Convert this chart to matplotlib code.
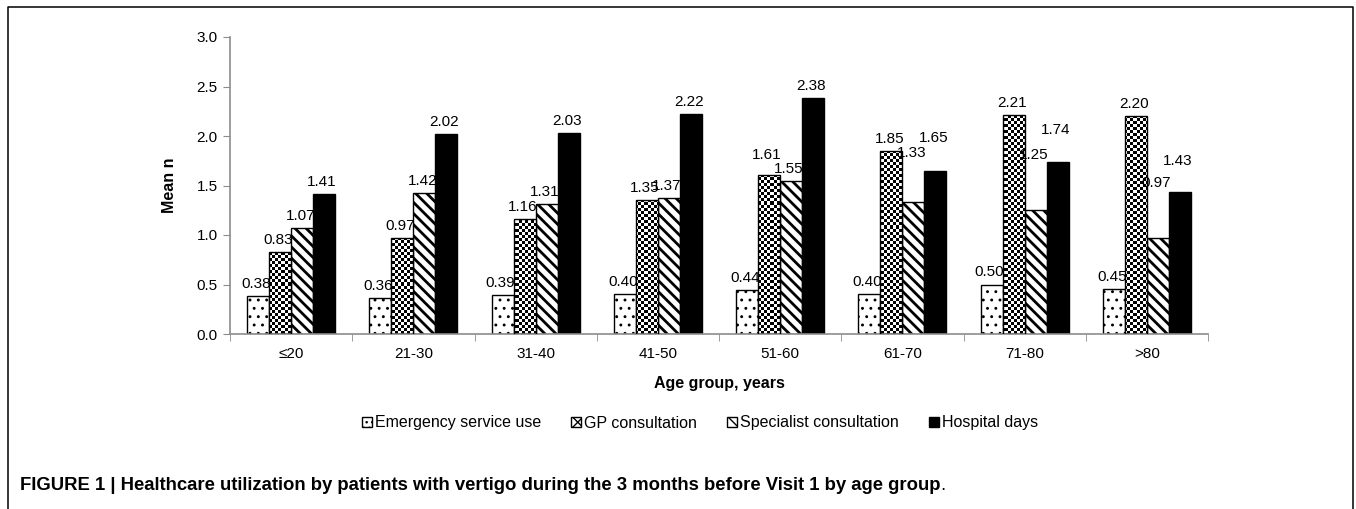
import numpy as np
import matplotlib
matplotlib.use('Agg')
import matplotlib.pyplot as plt
from matplotlib.patches import Patch
from matplotlib.lines import Line2D

plt.rcParams['font.family'] = ['Liberation Sans', 'DejaVu Sans']

groups = ['≤20', '21-30', '31-40', '41-50', '51-60', '61-70', '71-80', '>80']
series = ['Emergency service use', 'GP consultation', 'Specialist consultation', 'Hospital days']
emergency = [0.38, 0.36, 0.39, 0.40, 0.44, 0.40, 0.50, 0.45]
gp = [0.83, 0.97, 1.16, 1.35, 1.61, 1.85, 2.21, 2.20]
specialist = [1.07, 1.42, 1.31, 1.37, 1.55, 1.33, 1.25, 0.97]
hospital = [1.41, 2.02, 2.03, 2.22, 2.38, 1.65, 1.74, 1.43]

# extra lift (pixels) for a few labels that were moved by hand in the original
lift = {(1, 4): 8, (2, 5): 37, (3, 5): 21, (2, 6): 43, (3, 6): 20, (2, 7): 43, (3, 7): 19}

W, H = 1356, 509
fig = plt.figure(figsize=(W / 100, H / 100), dpi=100)
ax = fig.add_axes([230 / W, 1 - 334 / H, 978 / W, 297 / H])

x = np.arange(len(groups))
bw = 0.18
offs = (np.arange(4) - 1.5) * bw
vals = [emergency, gp, specialist, hospital]
gray = '#8c8c8c'

# checkerboard texture, 3 px cells over the whole axes
cb = (np.indices((99, 326)).sum(axis=0) % 2).astype(float)


def hatch_lw(patches, lw):
    for p in patches:
        if hasattr(p, 'set_hatch_linewidth'):
            p.set_hatch_linewidth(lw)


for i, v in enumerate(vals):
    if i == 0:
        with plt.rc_context({'hatch.linewidth': 0.9}):
            b = ax.bar(x + offs[i], v, bw, color='white', edgecolor='black', lw=1, hatch='..')
        hatch_lw(b, 0.9)
    elif i == 1:
        b = ax.bar(x + offs[i], v, bw, color='white', edgecolor='black', lw=1, zorder=3)
        for r in b:
            im = ax.imshow(cb, cmap='gray_r', extent=(-0.5, 7.5, 0, 3), aspect='auto',
                           interpolation='nearest', zorder=2)
            im.set_clip_path(r)
            r.set_facecolor('none')
    elif i == 2:
        with plt.rc_context({'hatch.linewidth': 2.0}):
            b = ax.bar(x + offs[i], v, bw, color='white', edgecolor='black', lw=1, hatch='\\\\\\')
        hatch_lw(b, 2.0)
    else:
        b = ax.bar(x + offs[i], v, bw, color='black', edgecolor='black', lw=1)
    for j, val in enumerate(v):
        ax.annotate(f'{val:.2f}', (x[j] + offs[i], val), xytext=(-2, 8 + lift.get((i, j), 0)),
                    textcoords='offset pixels', ha='center', va='baseline', fontsize=11, zorder=5)

ax.set_xlim(-0.5, 7.5)
ax.set_ylim(0, 3)
ax.set_yticks(np.arange(0, 3.01, 0.5))
ax.set_yticklabels([f'{t:.1f}' for t in np.arange(0, 3.01, 0.5)])
ax.set_xticks(x)
ax.set_xticklabels(groups)
ax.set_xticks(np.arange(-0.5, 8, 1), minor=True)
ax.tick_params(axis='x', which='major', length=0, pad=9, labelsize=11)
ax.tick_params(axis='x', which='minor', length=5, color=gray, direction='out')
ax.tick_params(axis='y', length=5, color=gray, labelsize=11, pad=4)
for s in ['top', 'right']:
    ax.spines[s].set_visible(False)
for s in ['left', 'bottom']:
    ax.spines[s].set_color(gray)
    ax.spines[s].set_linewidth(1.2)

ax.set_xlabel('Age group, years', fontsize=11.5, fontweight='bold', labelpad=11)
ax.set_ylabel('Mean n', fontsize=11.5, fontweight='bold', labelpad=14)

with plt.rc_context({'hatch.linewidth': 1.2}):
    handles = [Patch(facecolor='white', edgecolor='black', hatch='...'),
               Patch(facecolor='white', edgecolor='black', hatch='xxx'),
               Patch(facecolor='white', edgecolor='black', hatch='\\\\\\'),
               Patch(facecolor='black', edgecolor='black')]
hatch_lw(handles, 1.2)
fig.legend(handles, series, loc='center', bbox_to_anchor=(700 / W, 1 - 423 / H), ncol=4,
           frameon=False, fontsize=11.5, handlelength=0.6, handleheight=0.6,
           handletextpad=0.2, columnspacing=1.9)

cap = fig.text(20 / W, 1 - 490 / H,
               'FIGURE 1 | Healthcare utilization by patients with vertigo during the 3 months before Visit 1 by age group',
               fontsize=13.3, fontweight='bold', va='baseline', ha='left')
fig.canvas.draw()
bb = cap.get_window_extent()
fig.text(bb.x1 / W, 1 - 490 / H, '.', fontsize=13.3, va='baseline', ha='left')

# frame round the figure
fx0, fy1, fx1 = 8 / W, 1 - 7 / H, 1353 / W
fig.add_artist(Line2D([fx0, fx0, fx1, fx1], [0, fy1, fy1, 0], color='black', lw=1.1,
                      transform=fig.transFigure))

fig.savefig('out.png', dpi=100)
